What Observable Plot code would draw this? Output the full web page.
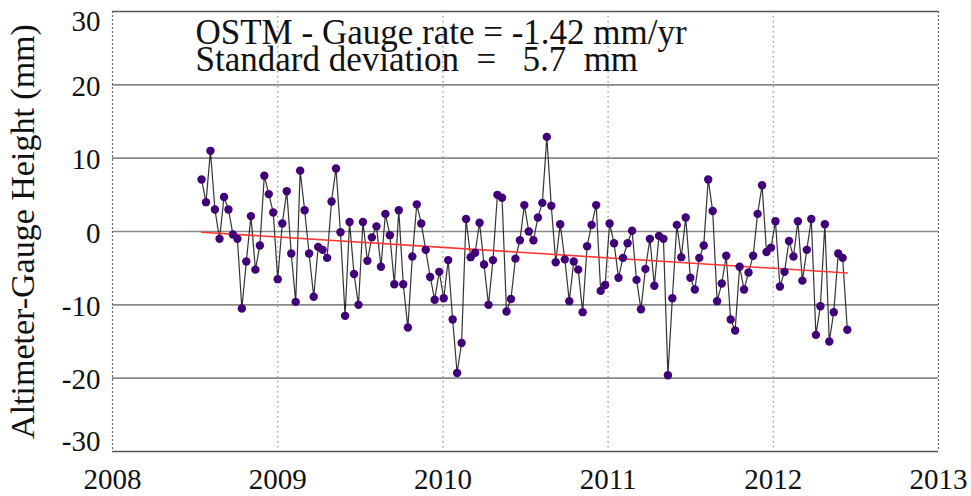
<!DOCTYPE html>
<html>
<head>
<meta charset="utf-8">
<script src="https://cdn.jsdelivr.net/npm/d3@7"></script>
<script src="https://cdn.jsdelivr.net/npm/@observablehq/plot@0.6"></script>
<style>
  html, body { margin: 0; padding: 0; background: #fff; }
  #chart svg { display: block; }
</style>
</head>
<body>
<div id="chart"></div>
<script>
// Decimal years of each 10-day OSTM cycle shown
const years = [
  2008.539, 2008.566, 2008.593, 2008.620, 2008.648, 2008.675, 2008.702, 2008.729, 2008.756, 2008.783,
  2008.810, 2008.838, 2008.865, 2008.892, 2008.919, 2008.946, 2008.973, 2009.000, 2009.028, 2009.055,
  2009.082, 2009.109, 2009.136, 2009.163, 2009.190, 2009.218, 2009.245, 2009.272, 2009.299, 2009.326,
  2009.353, 2009.380, 2009.408, 2009.435, 2009.462, 2009.489, 2009.516, 2009.543, 2009.570, 2009.598,
  2009.625, 2009.652, 2009.679, 2009.706, 2009.733, 2009.760, 2009.788, 2009.815, 2009.842, 2009.869,
  2009.896, 2009.923, 2009.950, 2009.978, 2010.005, 2010.032, 2010.059, 2010.086, 2010.113, 2010.140,
  2010.168, 2010.195, 2010.222, 2010.249, 2010.276, 2010.303, 2010.330, 2010.358, 2010.385, 2010.412,
  2010.439, 2010.466, 2010.493, 2010.520, 2010.548, 2010.575, 2010.602, 2010.629, 2010.656, 2010.683,
  2010.710, 2010.738, 2010.765, 2010.792, 2010.819, 2010.846, 2010.873, 2010.900, 2010.928, 2010.955,
  2010.982, 2011.009, 2011.036, 2011.063, 2011.090, 2011.118, 2011.145, 2011.172, 2011.199, 2011.226,
  2011.253, 2011.280, 2011.308, 2011.335, 2011.362, 2011.389, 2011.416, 2011.443, 2011.470, 2011.498,
  2011.525, 2011.552, 2011.579, 2011.606, 2011.633, 2011.660, 2011.688, 2011.715, 2011.742, 2011.769,
  2011.796, 2011.823, 2011.850, 2011.878, 2011.905, 2011.932, 2011.959, 2011.986, 2012.013, 2012.040,
  2012.068, 2012.095, 2012.122, 2012.149, 2012.176, 2012.203, 2012.230, 2012.258, 2012.285, 2012.312,
  2012.339, 2012.366, 2012.393, 2012.420, 2012.448
];
// Altimeter minus gauge height (mm)
const heights = [
  7.1, 4.0, 11.0, 3.0, -1.0, 4.7, 3.0, -0.4, -1.0, -10.5,
  -4.1, 2.1, -5.2, -1.9, 7.6, 5.1, 2.6, -6.5, 1.1, 5.5,
  -3.0, -9.6, 8.3, 2.9, -3.0, -8.9, -2.1, -2.5, -3.6, 4.1,
  8.6, -0.1, -11.5, 1.3, -5.8, -10.0, 1.3, -4.0, -0.8, 0.7,
  -4.8, 2.4, -0.5, -7.2, 2.9, -7.2, -13.1, -3.4, 3.7, 1.1,
  -2.5, -6.2, -9.3, -5.5, -9.1, -3.9, -12.0, -19.3, -15.2, 1.7,
  -3.5, -2.9, 1.2, -4.5, -10.0, -3.9, 5.0, 4.6, -10.9, -9.2,
  -3.7, -1.2, 3.6, 0.0, -1.2, 1.9, 3.9, 12.9, 3.5, -4.2,
  1.0, -3.8, -9.5, -4.1, -5.2, -11.0, -2.0, 0.9, 3.6, -8.1,
  -7.3, 1.1, -1.6, -6.3, -3.6, -1.6, 0.1, -6.6, -10.6, -5.1,
  -1.0, -7.4, -0.6, -1.0, -19.6, -9.1, 0.9, -3.5, 1.9, -6.3,
  -7.9, -3.6, -1.9, 7.1, 2.8, -9.5, -7.1, -3.3, -12.0, -13.5,
  -4.8, -7.9, -5.6, -3.3, 2.4, 6.3, -2.8, -2.2, 1.4, -7.5,
  -5.5, -1.3, -3.4, 1.4, -6.7, -2.5, 1.7, -14.1, -10.2, 1.0,
  -15.0, -11.0, -3.0, -3.6, -13.4
];
// Linear trend end points (rate -1.42 mm/yr)
const trendYears = [2008.539, 2012.448];
const trendHeights = [-0.1, -5.65];

const xTicks = [2008, 2009, 2010, 2011, 2012, 2013];
const yTicksInner = [-20, -10, 0, 10, 20];
const yTickTop = [30];
const yTickBottom = [-30];
const gridY = [-20, -10, 0, 10, 20];
const gridX = [2009, 2010, 2011, 2012];
const annotationLine1 = "OSTM - Gauge rate = -1.42 mm/yr";
const annotationLine2 = "Standard deviation\u00a0\u00a0=\u00a0\u00a0\u00a05.7\u00a0\u00a0mm";
const yLabel = "Altimeter-Gauge Height (mm)";

const data = years.map((t, i) => ({t, h: heights[i]}));
const trend = trendYears.map((t, i) => ({t, h: trendHeights[i]}));
const fmt = d => String(d);

const chart = Plot.plot({
  width: 971,
  height: 496,
  marginLeft: 112,
  marginRight: 33,
  marginTop: 11,
  marginBottom: 45,
  style: {fontFamily: "'Liberation Serif', serif", fontSize: "29px", color: "#111", background: "#fff"},
  x: {domain: [2008, 2013]},
  y: {domain: [-30, 30]},
  marks: [
    Plot.ruleY(gridY, {stroke: "#8a8a8a", strokeWidth: 1.6}),
    Plot.ruleX(gridX, {stroke: "#9a9a9a", strokeWidth: 1.3, strokeDasharray: "1.5,3.5"}),
    Plot.ruleY([-30, 30], {stroke: "#555", strokeWidth: 1.6}),
    Plot.ruleX([2008, 2013], {stroke: "#666", strokeWidth: 1.2, strokeDasharray: "2,2"}),
    Plot.line(data, {x: "t", y: "h", stroke: "#111", strokeWidth: 1.2, strokeOpacity: 0.85}),
    Plot.line(trend, {x: "t", y: "h", stroke: "#ff3535", strokeWidth: 1.6}),
    Plot.dot(data, {x: "t", y: "h", r: 4.2, fill: "#40007a", stroke: "none"}),
    Plot.axisX({ticks: xTicks, tickSize: 0, tickPadding: 17, tickFormat: fmt, label: null, fontSize: 29}),
    Plot.axisY({ticks: yTicksInner, tickSize: 0, tickPadding: 12, tickFormat: fmt, label: null, fontSize: 29, dy: 2}),
    Plot.axisY({ticks: yTickTop, tickSize: 0, tickPadding: 12, tickFormat: fmt, label: null, fontSize: 29, dy: 10}),
    Plot.axisY({ticks: yTickBottom, tickSize: 0, tickPadding: 12, tickFormat: fmt, label: null, fontSize: 29, dy: -10}),
    Plot.text([annotationLine1], {
      frameAnchor: "top-left", dx: 83, dy: 32, lineAnchor: "bottom", textAnchor: "start",
      fontSize: 35, fill: "#111"
    }),
    Plot.text([annotationLine2], {
      frameAnchor: "top-left", dx: 83, dy: 59, lineAnchor: "bottom", textAnchor: "start",
      fontSize: 35, fill: "#111"
    }),
    Plot.text([yLabel], {
      frameAnchor: "left", dx: -89, rotate: -90, textAnchor: "middle", lineAnchor: "middle",
      fontSize: 34, fill: "#111"
    })
  ]
});
document.getElementById("chart").append(chart);
</script>
</body>
</html>
